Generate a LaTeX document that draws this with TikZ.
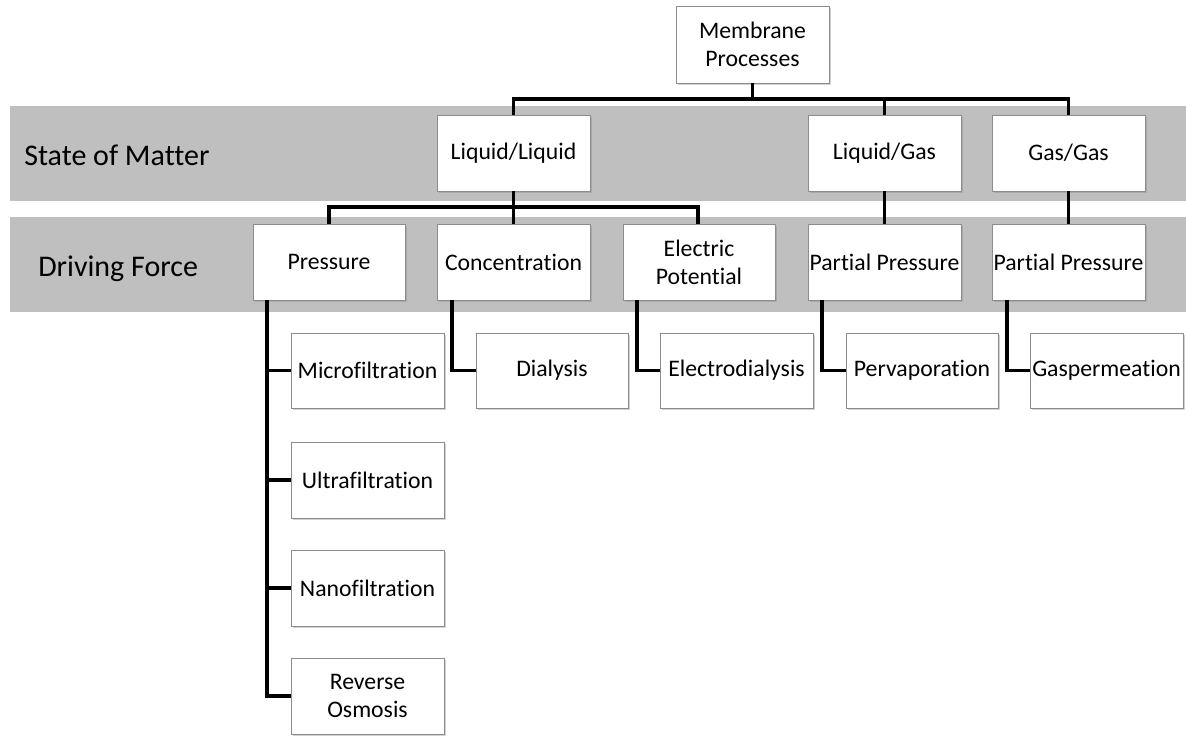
\documentclass[tikz,border=0pt]{standalone}
\usepackage{fontspec}
\setmainfont{Carlito}[Ligatures={NoCommon}]
\usetikzlibrary{shadows}
\definecolor{bandgray}{HTML}{BFBFBF}
\tikzset{
  x=0.75pt, y=-0.75pt,
  box/.style={draw=black!45, line width=0.6pt, fill=white, align=center,
    font=\fontsize{17.8}{21}\selectfont,
    drop shadow={opacity=0.35, shadow xshift=1.2pt, shadow yshift=-1.2pt}},
  band/.style={fill=bandgray, draw=none},
  bandlabel/.style={font=\fontsize{22.5}{26}\selectfont, anchor=west, inner sep=0pt},
  conn/.style={line width=2.7pt, black}
}
\newcommand{\bx}[6]{% name, x1, y1, x2, y2, text
  \node[box, minimum width={(#4-#2)*0.75pt}, minimum height={(#5-#3)*0.75pt}, inner sep=0pt]
    (#1) at ({(#2+#4)/2},{(#3+#5)/2}) {#6};}
\begin{document}
\begin{tikzpicture}
\useasboundingbox (0,0) rectangle (1186,736);
\fill[white] (0,0) rectangle (1186,736);
% bands
\fill[band] (10,106) rectangle (1186,201);
\fill[band] (10,217) rectangle (1186,312);
\node[bandlabel] (som) at (24,155) {State of Matter};
\node[bandlabel] (df) at (38,269) {Driving Force};
% boxes
\bx{mem}{676}{6}{829}{83}{Membrane\\Processes}
\bx{ll}{437}{115}{590}{191}{Liquid/Liquid}
\bx{lg}{808}{115}{961}{191}{Liquid/Gas}
\bx{gg}{992}{115}{1145}{191}{Gas/Gas}
\bx{pr}{253}{224}{405}{300}{Pressure}
\bx{co}{437}{224}{590}{300}{Concentration}
\bx{el}{623}{224}{775}{300}{Electric\\Potential}
\bx{pp1}{808}{224}{961}{300}{Partial Pressure}
\bx{pp2}{992}{224}{1145}{300}{Partial Pressure}
\bx{mf}{291}{333}{444}{408}{Microfiltration}
\bx{di}{476}{333}{628}{408}{Dialysis}
\bx{ed}{660}{333}{813}{408}{Electrodialysis}
\bx{pv}{846}{333}{998}{408}{Pervaporation}
\bx{gp}{1030}{333}{1183}{408}{Gaspermeation}
\bx{uf}{291}{442}{444}{518}{Ultrafiltration}
\bx{nf}{291}{550}{444}{626}{Nanofiltration}
\bx{ro}{291}{658}{444}{734}{Reverse\\Osmosis}
% connectors level 1
\coordinate (j1) at (752.5,99);
\draw[conn] (mem.south) -- (j1);
\draw[conn] (ll.north) |- (j1) -| (gg.north);
\draw[conn] (lg.north) -- (lg.north |- j1);
% level 2
\coordinate (j2) at (513.5,207);
\draw[conn] (ll.south) -- (j2);
\draw[conn] (pr.north -| 329,0) |- (j2) -| (el.north -| 698,0);
\draw[conn] (co.north) -- (j2);
\draw[conn] (lg.south) -- (pp1.north);
\draw[conn] (gg.south) -- (pp2.north);
% level 3
\draw[conn] (pr.south -| 267,0) |- (ro.west);
\draw[conn] (mf.west) -- (mf.west -| 267,0);
\draw[conn] (uf.west) -- (uf.west -| 267,0);
\draw[conn] (nf.west) -- (nf.west -| 267,0);
\draw[conn] (co.south -| 452,0) |- (di.west);
\draw[conn] (el.south -| 637,0) |- (ed.west);
\draw[conn] (pp1.south -| 822,0) |- (pv.west);
\draw[conn] (pp2.south -| 1007,0) |- (gp.west);
\end{tikzpicture}
\end{document}
